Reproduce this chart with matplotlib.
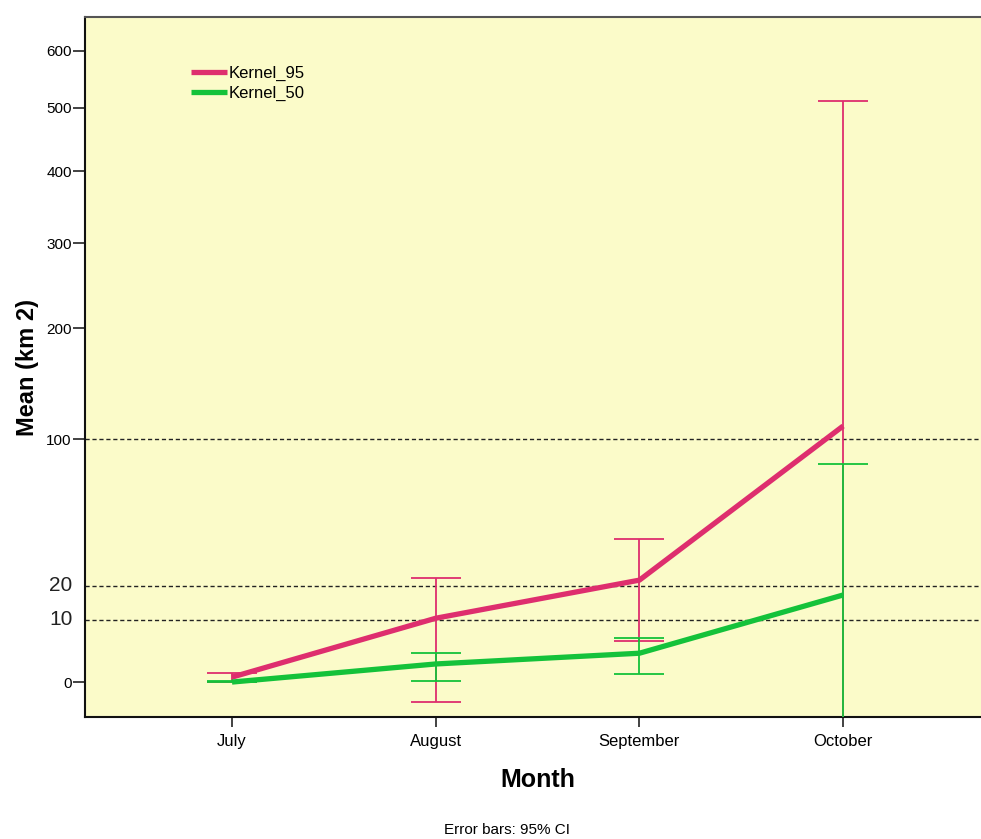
import matplotlib
matplotlib.use("Agg")
import matplotlib.pyplot as plt
import numpy as np

# Data
months = ["July", "August", "September", "October"]
k95_mean = [0.4, 10.4, 22.0, 110.0]
k95_low = [0.0, -2.0, 5.4, -60.0]
k95_high = [0.8, 22.7, 39.0, 512.0]
k50_mean = [0.0, 1.8, 3.3, 17.0]
k50_low = [0.0, 0.05, 0.7, -60.0]
k50_high = [0.1, 3.3, 6.0, 82.0]
ref_lines = [10, 20, 100]
yticks = [0, 100, 200, 300, 400, 500, 600]

pink = "#DE2E6E"
green = "#14C23A"

plt.rcParams['font.family'] = ['Liberation Sans', 'DejaVu Sans']


def fwd(v):
    v = np.asarray(v, dtype=float)
    return np.sign(v) * (np.sqrt(np.abs(v) + 1) - 1)


def inv(u):
    u = np.asarray(u, dtype=float)
    return np.sign(u) * ((np.abs(u) + 1) ** 2 - 1)


fig = plt.figure(figsize=(9.81, 8.39), dpi=100)
ax = fig.add_axes([0.0866, 0.1454, 0.9234, 0.8343])
ax.set_facecolor("#FBFBC9")
ax.set_yscale("function", functions=(fwd, inv))

x = np.arange(len(months))

for mean, lo, hi, col in [(k95_mean, k95_low, k95_high, pink),
                          (k50_mean, k50_low, k50_high, green)]:
    mean = np.array(mean)
    yerr = [mean - np.array(lo), np.array(hi) - mean]
    ax.errorbar(x, mean, yerr=yerr, fmt="none", ecolor=col, elinewidth=1.3,
                capsize=18, capthick=1.3, zorder=3)

ax.plot(x, k95_mean, color=pink, lw=3.8, label="Kernel_95", zorder=4,
        solid_capstyle="butt")
ax.plot(x, k50_mean, color=green, lw=3.8, label="Kernel_50", zorder=4,
        solid_capstyle="butt")

for r in ref_lines:
    ax.axhline(r, color="#222222", lw=1.0, ls=(0, (3, 2)), zorder=2)

ax.set_ylim(-4.3, 663)
ax.set_xlim(-0.722, 3.725)
ax.set_yticks(yticks)
ax.set_yticklabels([str(t) for t in yticks], fontsize=11)
ax.set_xticks(x)
ax.set_xticklabels(months, fontsize=12)
ax.tick_params(axis="x", direction="out", length=7, width=1.2, color="#222222", pad=5)
ax.tick_params(axis="y", direction="out", length=9, width=1.2, color="#222222", pad=0.5)

# enlarged annotations for 10 and 20
for r in [10, 20]:
    ax.text(-0.0135, r, str(r), transform=ax.get_yaxis_transform(),
            ha="right", va="center", fontsize=15, color="#222222")

for s in ["left", "bottom"]:
    ax.spines[s].set_linewidth(1.5)
    ax.spines[s].set_color("#111111")
ax.spines["top"].set_color("#555555")
ax.spines["top"].set_linewidth(1.5)
ax.spines["right"].set_visible(False)

ax.set_ylabel("Mean (km 2)", fontsize=17, fontweight="bold", labelpad=5)
ax.set_xlabel("Month", fontsize=18, fontweight="bold", labelpad=14)

ax.legend(loc="upper left", bbox_to_anchor=(0.1, 0.952), frameon=False,
          fontsize=12, handlelength=2.2, handletextpad=0.1, labelspacing=0.3)

fig.text(0.517, 0.002, "Error bars: 95% CI", ha="center", va="bottom", fontsize=11)

fig.savefig("out.png", dpi=100)
